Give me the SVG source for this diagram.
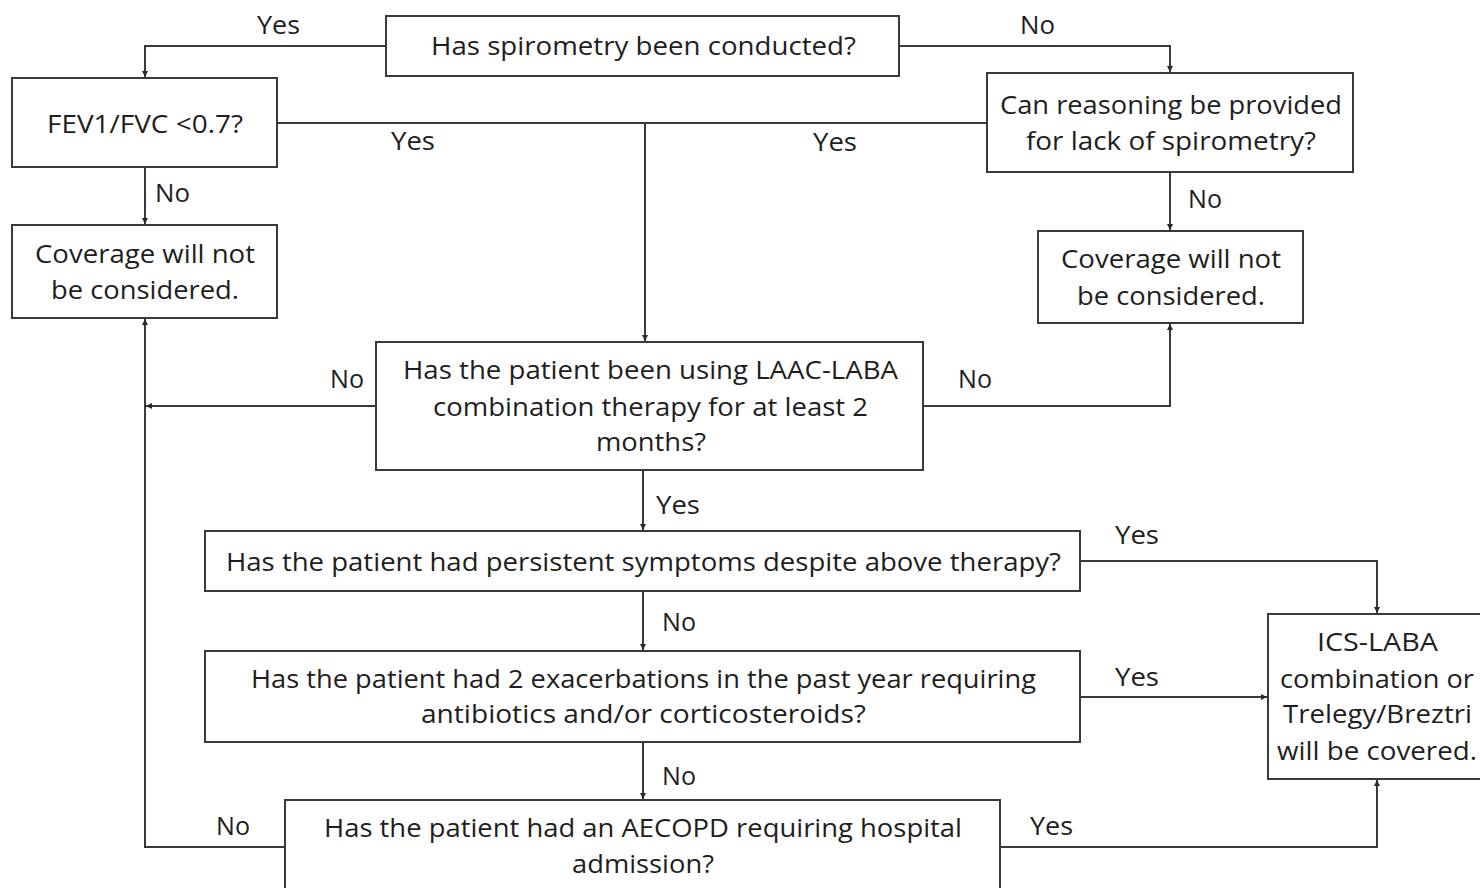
<svg xmlns="http://www.w3.org/2000/svg" width="1480" height="888" viewBox="0 0 1480 888">
<style>
.box{fill:#fff;stroke:#3a3a3a;stroke-width:2}
.t{font-family:"Open Sans","Noto Sans","Liberation Sans",sans-serif;font-size:25px;fill:#1e1e1e;text-anchor:middle}
.l{font-family:"Open Sans","Noto Sans","Liberation Sans",sans-serif;font-size:25px;fill:#1e1e1e}
.c{fill:none;stroke:#3a3a3a;stroke-width:2}
</style>
<defs>
<marker id="a" markerUnits="userSpaceOnUse" markerWidth="8" markerHeight="8" refX="6" refY="3" orient="auto">
<path d="M0,0 L6,3 L0,6 z" fill="#2a2a2a"/>
</marker>
</defs>
<rect width="1480" height="888" fill="#fff"/>
<g id="connectors">
<path class="c" d="M386,46 H145 V77" marker-end="url(#a)"/>
<path class="c" d="M899,46 H1170 V72" marker-end="url(#a)"/>
<path class="c" d="M277,123 H987"/>
<path class="c" d="M645,123 V341" marker-end="url(#a)"/>
<path class="c" d="M145,167 V224" marker-end="url(#a)"/>
<path class="c" d="M1170,172 V230" marker-end="url(#a)"/>
<path class="c" d="M376,406 H146" marker-end="url(#a)"/>
<path class="c" d="M285,847 H145 V319" marker-end="url(#a)"/>
<path class="c" d="M923,406 H1170 V324" marker-end="url(#a)"/>
<path class="c" d="M643,470 V530" marker-end="url(#a)"/>
<path class="c" d="M1080,561 H1377 V613" marker-end="url(#a)"/>
<path class="c" d="M643,591 V650" marker-end="url(#a)"/>
<path class="c" d="M1080,697 H1267" marker-end="url(#a)"/>
<path class="c" d="M643,742 V799" marker-end="url(#a)"/>
<path class="c" d="M1000,847 H1377 V780" marker-end="url(#a)"/>
<text class="l" x="257" y="34" textLength="43" lengthAdjust="spacingAndGlyphs">Yes</text>
<text class="l" x="1020" y="34" textLength="35" lengthAdjust="spacingAndGlyphs">No</text>
<text class="l" x="391" y="150" textLength="44" lengthAdjust="spacingAndGlyphs">Yes</text>
<text class="l" x="813" y="151" textLength="44" lengthAdjust="spacingAndGlyphs">Yes</text>
<text class="l" x="155" y="202" textLength="35" lengthAdjust="spacingAndGlyphs">No</text>
<text class="l" x="1188" y="208" textLength="34" lengthAdjust="spacingAndGlyphs">No</text>
<text class="l" x="330" y="388" textLength="34" lengthAdjust="spacingAndGlyphs">No</text>
<text class="l" x="958" y="388" textLength="34" lengthAdjust="spacingAndGlyphs">No</text>
<text class="l" x="656" y="514" textLength="44" lengthAdjust="spacingAndGlyphs">Yes</text>
<text class="l" x="1115" y="544" textLength="44" lengthAdjust="spacingAndGlyphs">Yes</text>
<text class="l" x="662" y="631" textLength="34" lengthAdjust="spacingAndGlyphs">No</text>
<text class="l" x="1115" y="686" textLength="44" lengthAdjust="spacingAndGlyphs">Yes</text>
<text class="l" x="662" y="785" textLength="34" lengthAdjust="spacingAndGlyphs">No</text>
<text class="l" x="216" y="835" textLength="34" lengthAdjust="spacingAndGlyphs">No</text>
<text class="l" x="1030" y="835" textLength="43" lengthAdjust="spacingAndGlyphs">Yes</text>
</g>
<g id="n1">
<rect class="box" x="386" y="16" width="513" height="60"/>
<text class="t" x="643.5" y="55" textLength="425" lengthAdjust="spacingAndGlyphs">Has spirometry been conducted?</text>
</g>
<g id="n2">
<rect class="box" x="12" y="78" width="265" height="89"/>
<text class="t" x="145" y="133" textLength="196" lengthAdjust="spacingAndGlyphs">FEV1/FVC &lt;0.7?</text>
</g>
<g id="n3">
<rect class="box" x="12" y="225" width="265" height="93"/>
<text class="t" x="145" y="263" textLength="220" lengthAdjust="spacingAndGlyphs">Coverage will not</text>
<text class="t" x="145" y="299" textLength="188" lengthAdjust="spacingAndGlyphs">be considered.</text>
</g>
<g id="n4">
<rect class="box" x="987" y="73" width="366" height="99"/>
<text class="t" x="1171" y="114" textLength="342" lengthAdjust="spacingAndGlyphs">Can reasoning be provided</text>
<text class="t" x="1171" y="150" textLength="290" lengthAdjust="spacingAndGlyphs">for lack of spirometry?</text>
</g>
<g id="n5">
<rect class="box" x="1038" y="231" width="265" height="92"/>
<text class="t" x="1171" y="268" textLength="220" lengthAdjust="spacingAndGlyphs">Coverage will not</text>
<text class="t" x="1171" y="305" textLength="188" lengthAdjust="spacingAndGlyphs">be considered.</text>
</g>
<g id="n6">
<rect class="box" x="376" y="342" width="547" height="128"/>
<text class="t" x="650.5" y="379" textLength="495" lengthAdjust="spacingAndGlyphs">Has the patient been using LAAC-LABA</text>
<text class="t" x="650.5" y="416" textLength="435" lengthAdjust="spacingAndGlyphs">combination therapy for at least 2</text>
<text class="t" x="651" y="451" textLength="110" lengthAdjust="spacingAndGlyphs">months?</text>
</g>
<g id="n7">
<rect class="box" x="205" y="531" width="875" height="60"/>
<text class="t" x="643.5" y="571" textLength="835" lengthAdjust="spacingAndGlyphs">Has the patient had persistent symptoms despite above therapy?</text>
</g>
<g id="n8">
<rect class="box" x="205" y="651" width="875" height="91"/>
<text class="t" x="643.5" y="688" textLength="785" lengthAdjust="spacingAndGlyphs">Has the patient had 2 exacerbations in the past year requiring</text>
<text class="t" x="643.5" y="723" textLength="445" lengthAdjust="spacingAndGlyphs">antibiotics and/or corticosteroids?</text>
</g>
<g id="n9">
<rect class="box" x="285" y="800" width="715" height="100"/>
<text class="t" x="643" y="837" textLength="638" lengthAdjust="spacingAndGlyphs">Has the patient had an AECOPD requiring hospital</text>
<text class="t" x="643" y="873" textLength="142" lengthAdjust="spacingAndGlyphs">admission?</text>
</g>
<g id="n10">
<rect class="box" x="1268" y="614" width="225" height="165"/>
<text class="t" x="1377.5" y="651" textLength="121" lengthAdjust="spacingAndGlyphs">ICS-LABA</text>
<text class="t" x="1377" y="688" textLength="194" lengthAdjust="spacingAndGlyphs">combination or</text>
<text class="t" x="1377.5" y="723" textLength="189" lengthAdjust="spacingAndGlyphs">Trelegy/Breztri</text>
<text class="t" x="1377" y="760" textLength="200" lengthAdjust="spacingAndGlyphs">will be covered.</text>
</g>
</svg>
